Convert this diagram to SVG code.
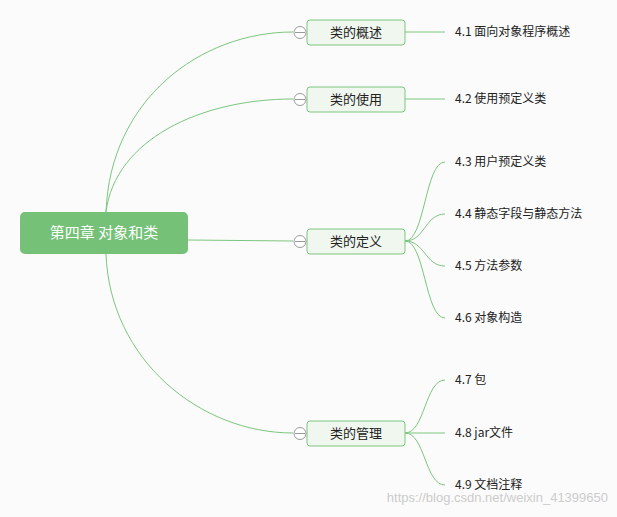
<svg xmlns="http://www.w3.org/2000/svg" width="617" height="517" viewBox="0 0 617 517">
<style>
.c{fill:none;stroke:#7cc67f;stroke-width:1}
.b{fill:#f0f7ef;stroke:#7cc67f;stroke-width:1}
.t{font-family:"Noto Sans CJK SC","Liberation Sans",sans-serif;font-size:13px;fill:#222}
.l{font-family:"Noto Sans CJK SC","Liberation Sans",sans-serif;font-size:12px;fill:#222}
.k{fill:#fff;stroke:#999;stroke-width:1}
</style>
<rect width="617" height="517" fill="#fbfbfb"/>
<g id="connectors">
<path class="c" d="M106 212 C110 100 200 32 293 32"/>
<path class="c" d="M106 212 C115 140 200 99 293 99"/>
<path class="c" d="M188 240 L293 241"/>
<path class="c" d="M106 254 C110 360 200 433 293 433"/>
<path class="c" d="M405 32 L445 32"/>
<path class="c" d="M405 99 L445 99"/>
<path class="c" d="M405 241 C425 241 425 162 445 162"/>
<path class="c" d="M405 241 C425 241 425 214 445 214"/>
<path class="c" d="M405 241 C425 241 425 266 445 266"/>
<path class="c" d="M405 241 C425 241 425 318 445 318"/>
<path class="c" d="M405 433 C425 433 425 380 445 380"/>
<path class="c" d="M405 433 L445 433"/>
<path class="c" d="M405 433 C425 433 425 485 445 485"/>
</g>
<g id="root"><rect x="20" y="212" width="168" height="42" rx="5" fill="#75c177"/><text x="104" y="238" text-anchor="middle" font-family="Noto Sans CJK SC,Liberation Sans,sans-serif" font-size="15" fill="#fff">第四章 对象和类</text></g>
<g id="n1"><rect class="b" x="307" y="20" width="98" height="25" rx="3"/><circle class="k" cx="300" cy="32.5" r="6"/><path d="M295 32.5h10" stroke="#999"/><text class="t" x="356" y="37" text-anchor="middle">类的概述</text></g>
<g id="n2"><rect class="b" x="307" y="87" width="98" height="25" rx="3"/><circle class="k" cx="300" cy="99.5" r="6"/><path d="M295 99.5h10" stroke="#999"/><text class="t" x="356" y="104" text-anchor="middle">类的使用</text></g>
<g id="n3"><rect class="b" x="307" y="229" width="98" height="25" rx="3"/><circle class="k" cx="300" cy="241.5" r="6"/><path d="M295 241.5h10" stroke="#999"/><text class="t" x="356" y="246" text-anchor="middle">类的定义</text></g>
<g id="n4"><rect class="b" x="307" y="421" width="98" height="25" rx="3"/><circle class="k" cx="300" cy="433.5" r="6"/><path d="M295 433.5h10" stroke="#999"/><text class="t" x="356" y="438" text-anchor="middle">类的管理</text></g>
<g id="leaves">
<text class="l" x="455" y="36">4.1 面向对象程序概述</text>
<text class="l" x="455" y="103">4.2 使用预定义类</text>
<text class="l" x="455" y="166">4.3 用户预定义类</text>
<text class="l" x="455" y="218">4.4 静态字段与静态方法</text>
<text class="l" x="455" y="270">4.5 方法参数</text>
<text class="l" x="455" y="322">4.6 对象构造</text>
<text class="l" x="455" y="384">4.7 包</text>
<text class="l" x="455" y="437">4.8 jar文件</text>
<text class="l" x="455" y="489">4.9 文档注释</text>
</g>
<text x="608" y="502" text-anchor="end" font-family="Liberation Sans,sans-serif" font-size="13" fill="#ccc">https://blog.csdn.net/weixin_41399650</text>
</svg>
